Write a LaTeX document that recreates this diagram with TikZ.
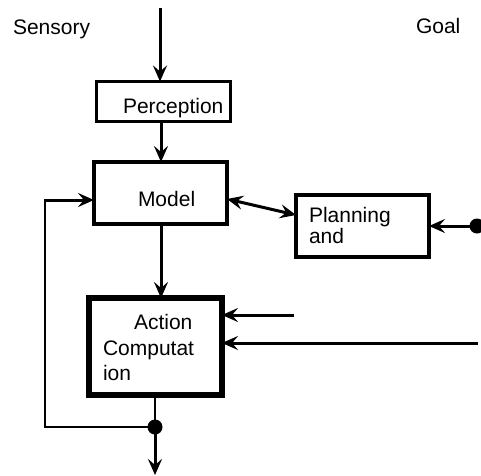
\documentclass[tikz,border=0pt]{standalone}
\usepackage{fontspec}
\setmainfont{Liberation Sans}
\usetikzlibrary{arrows.meta}
\begin{document}
\begin{tikzpicture}[x=1pt,y=-1pt,
  every node/.style={inner sep=0pt,outer sep=0pt},
  lbl/.style={anchor=base west,font=\fontsize{21}{22}\selectfont},
  box/.style={draw,line width=#1,fill=white},
  flow/.style={line width=3pt,-{Stealth[length=16pt,width=14pt,inset=6pt]}},
  biflow/.style={line width=3pt,{Stealth[length=16pt,width=14pt,inset=6pt]}-{Stealth[length=16pt,width=14pt,inset=6pt]}},
  wire/.style={line width=2.8pt},
  junction/.style={circle,fill=black,minimum size=15pt}]
\useasboundingbox[fill=white] (0,0) rectangle (481,475);

% blocks
\node[box=3.3pt,minimum width=134pt,minimum height=40pt] (perc) at (163.5,101.5) {};
\node[box=3.8pt,minimum width=133pt,minimum height=62pt] (model) at (160.5,193) {};
\node[box=3.6pt,minimum width=133pt,minimum height=62pt] (plan) at (362.5,226) {};
\node[box=5.5pt,minimum width=133pt,minimum height=97pt] (action) at (155.5,346.5) {};

% block labels
\node[lbl] (tperc) at (123,113) {Perception};
\node[lbl] (tmodel) at (138,206) {Model};
\node[lbl] (tplan1) at (309,222) {Planning};
\node[lbl] (tplan2) at (309,243) {and};
\node[lbl] (tact1) at (134,329) {Action};
\node[lbl] (tact2) at (103,355) {Computat};
\node[lbl] (tact3) at (103,380) {ion};

% input labels
\node[lbl] (sensory) at (13,34) {Sensory};
\node[lbl] (goal) at (416,33) {Goal};

% free ends and junctions
\coordinate (sin) at (160,8);
\node[junction] (gdot) at (477,226) {};
\node[junction] (odot) at (155,427) {};
\coordinate (in1) at (294,315);
\coordinate (in2) at (478,343);
\coordinate (out) at (155,475);
\coordinate (fbl) at (45,427);
\coordinate (fbt) at (45,200);

% connectors
\draw[flow] (sin) -- (sin |- perc.north);
\draw[flow] (perc.south -| 161,0) -- (model.north -| 161,0);
\draw[biflow] ([yshift=-6pt]model.east) -- ([yshift=11pt]plan.west);
\draw[flow] (gdot.center) -- (plan.east);
\draw[flow] (model.south -| 161,0) -- (action.north -| 161,0);
\draw[flow] (in1) -- (action.east |- in1);
\draw[flow] (in2) -- (action.east |- in2);
\draw[wire] (action.south -| odot) -- (odot.center);
\draw[flow] (odot.center) -- (out);
\draw[wire] (odot.center) -- (fbl) -- (fbt);
\draw[flow] ([xshift=-1.4pt]fbt) -- (model.west |- fbt);
\end{tikzpicture}
\end{document}
